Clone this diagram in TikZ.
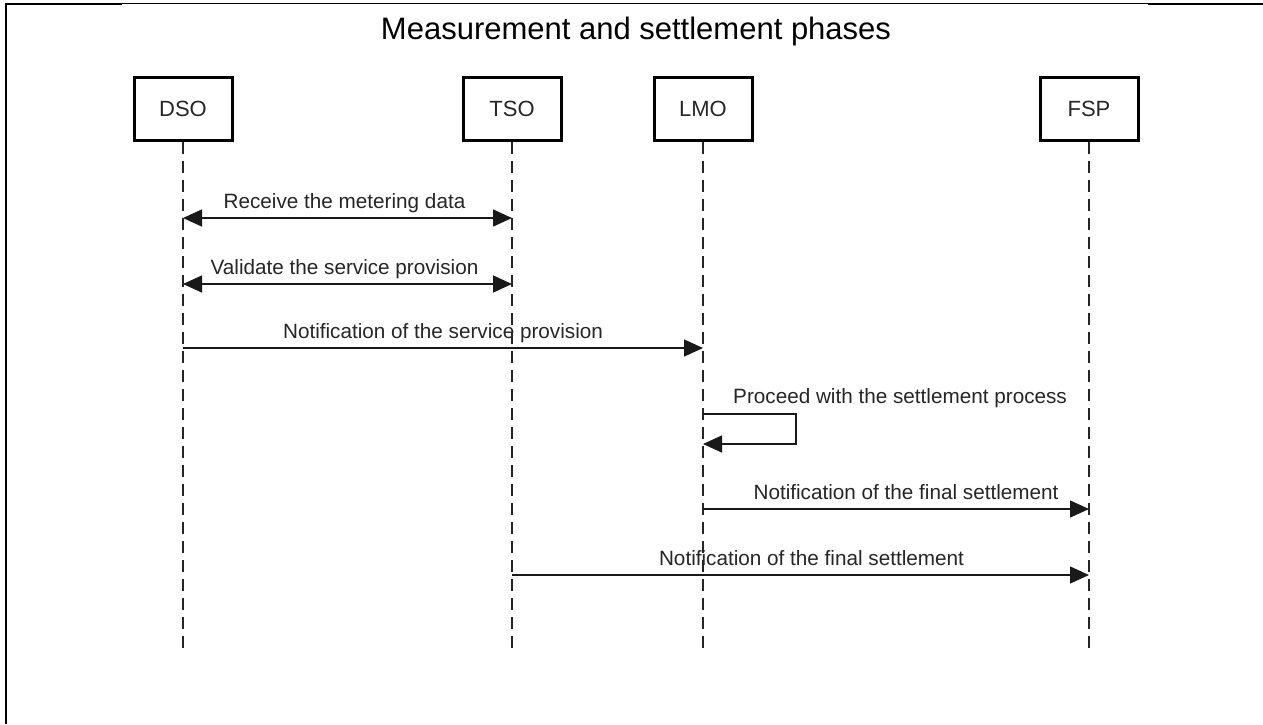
\documentclass[tikz,border=0pt]{standalone}
\usepackage{fontspec}
\setmainfont{Liberation Sans}
\usetikzlibrary{arrows.meta}
\begin{document}
\begin{tikzpicture}[x=1pt,y=-1pt,
  actor/.style={draw=black, line width=3pt, minimum width=98pt, minimum height=63pt,
    inner sep=0pt, font=\fontsize{22}{26}\selectfont, text=black!85},
  lifeline/.style={draw=black!85, line width=1.3pt, dash pattern=on 12pt off 7pt},
  msg/.style={draw=black!90, line width=1.4pt, -{Triangle[length=19pt,width=17pt]}},
  bimsg/.style={draw=black!90, line width=1.4pt, {Triangle[length=19pt,width=17pt]}-{Triangle[length=19pt,width=17pt]}},
  msglabel/.style={anchor=base, inner sep=0pt, font=\fontsize{20.7}{24}\selectfont, text=black!85},
]
\useasboundingbox (0,0) rectangle (1263,724);
\fill[white] (0,0) rectangle (1263,724);

% frame edges
\draw[line width=1pt] (122,3.5) -- (1148,3.5);
\draw[line width=2.6pt] (4.5,4) -- (122,4);
\draw[line width=2.6pt] (1148,4) -- (1263,4);
\draw[line width=2pt] (6,3) -- (6,724);

% title
\node (title) at (636,31) {\fontsize{31}{36}\selectfont Measurement and settlement phases};

% participants
\node[actor] (dso) at (183,109) {DSO};
\node[actor] (tso) at (512,109) {TSO};
\node[actor] (lmo) at (703,109) {LMO};
\node[actor] (fsp) at (1089,109) {FSP};

% lifeline ends
\coordinate (dsoEnd) at (183,648);
\coordinate (tsoEnd) at (512,648);
\coordinate (lmoEnd) at (703,648);
\coordinate (fspEnd) at (1089,648);
\draw[lifeline] (dso.south) -- (dsoEnd);
\draw[lifeline] (tso.south) -- (tsoEnd);
\draw[lifeline] (lmo.south) -- (lmoEnd);
\draw[lifeline] (fsp.south) -- (fspEnd);

% message rows
\coordinate (r1) at (0,218);
\coordinate (r2) at (0,284);
\coordinate (r3) at (0,348);
\coordinate (r4) at (0,414);
\coordinate (r4b) at (0,444);
\coordinate (r5) at (0,509);
\coordinate (r6) at (0,575);
\coordinate (loopR) at (796,0);

\draw[bimsg] (dso |- r1) -- node[msglabel, yshift=10pt, xshift=-3pt] {Receive the metering data} (tso |- r1);
\draw[bimsg] (dso |- r2) -- node[msglabel, yshift=10pt, xshift=-3pt] {Validate the service provision} (tso |- r2);
\draw[msg] (dso |- r3) -- node[msglabel, yshift=10pt] {Notification of the service provision} (lmo |- r3);
\draw[msg] (lmo |- r4) -- (loopR |- r4) -- (loopR |- r4b) -- (lmo |- r4b);
\node[msglabel, anchor=base west] (selflabel) at ([xshift=30pt, yshift=11pt]lmo |- r4) {Proceed with the settlement process};
\draw[msg] (lmo |- r5) -- node[msglabel, yshift=10pt, xshift=10pt] {Notification of the final settlement} (fsp |- r5);
\draw[msg] (tso |- r6) -- node[msglabel, yshift=10pt, xshift=11pt] {Notification of the final settlement} (fsp |- r6);
\end{tikzpicture}
\end{document}
